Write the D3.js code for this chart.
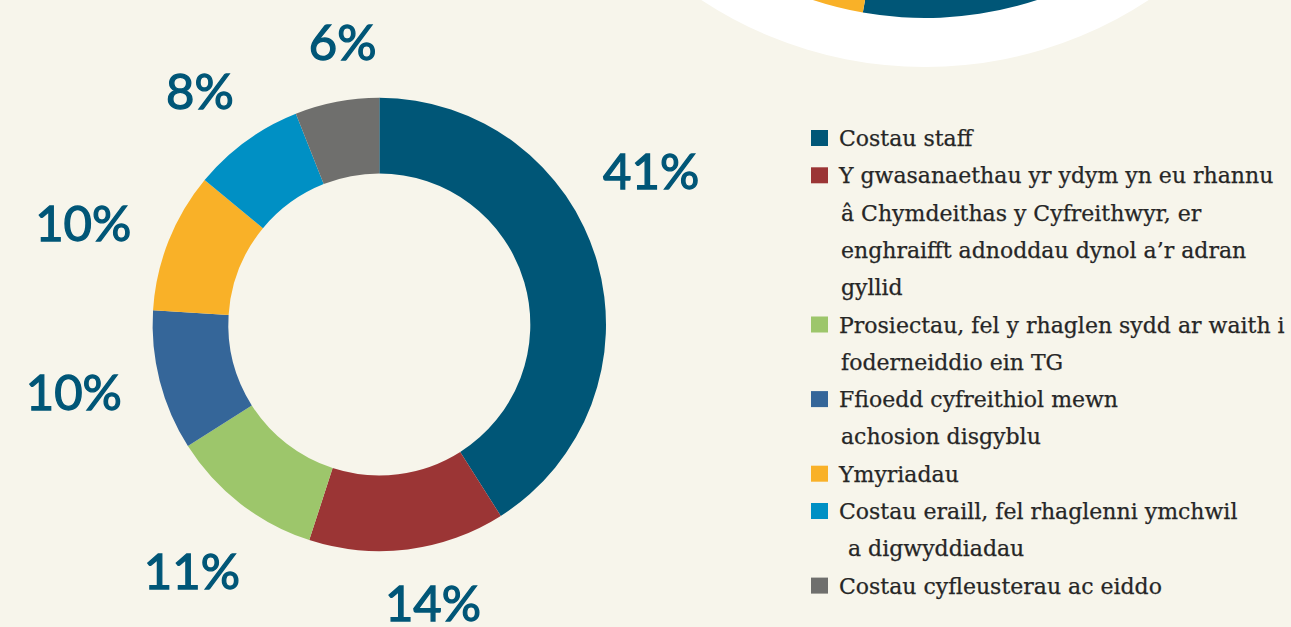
<!DOCTYPE html>
<html>
<head>
<meta charset="utf-8">
<script src="https://cdn.jsdelivr.net/npm/d3@7/dist/d3.min.js"></script>
<style>
  html, body { margin: 0; padding: 0; background: #f7f5eb; }
  svg { display: block; }
</style>
</head>
<body>
<svg id="chart" width="1291" height="627"></svg>
<script>
// ---- Data ----
const categories = [
  "Costau staff",
  "Y gwasanaethau yr ydym yn eu rhannu â Chymdeithas y Cyfreithwyr, er enghraifft adnoddau dynol a’r adran gyllid",
  "Prosiectau, fel y rhaglen sydd ar waith i foderneiddio ein TG",
  "Ffioedd cyfreithiol mewn achosion disgyblu",
  "Ymyriadau",
  "Costau eraill, fel rhaglenni ymchwil a digwyddiadau",
  "Costau cyfleusterau ac eiddo"
];
const legendLines = [
  ["Costau staff"],
  ["Y gwasanaethau yr ydym yn eu rhannu", "â Chymdeithas y Cyfreithwyr, er", "enghraifft adnoddau dynol a’r adran", "gyllid"],
  ["Prosiectau, fel y rhaglen sydd ar waith i", "foderneiddio ein TG"],
  ["Ffioedd cyfreithiol mewn", "achosion disgyblu"],
  ["Ymyriadau"],
  ["Costau eraill, fel rhaglenni ymchwil", " a digwyddiadau"],
  ["Costau cyfleusterau ac eiddo"]
];
const values = [41, 14, 11, 10, 10, 8, 6];
const colors = ["#005677", "#9b3535", "#9dc66b", "#356699", "#f9b128", "#0090c4", "#6f6f6d"];

// partial (cropped) donut from a neighbouring chart, top right
const insetValues = [100, 80];
const insetColors = ["#005677", "#f9b128"];

// ---- Layout ----
const W = 1291, H = 627;
const cx = 379.3, cy = 324.5, rOuter = 226.7, rInner = 151;
const labelNudgeDeg = [-13.2, -3.7, -0.6, 1.8, -2.7, -1.6, 3.4];
const labelRadius   = [312, 284, 310, 313, 313, 294, 285];
const labelColor = "#005677";

const svg = d3.select("#chart");
svg.append("rect").attr("width", W).attr("height", H).attr("fill", "#f7f5eb");

// inset
const inset = svg.append("g").attr("transform", "translate(925,-340)");
inset.append("circle").attr("r", 407).attr("fill", "#ffffff");
const insetPie = d3.pie().sort(null).startAngle(Math.PI / 2).endAngle(3 * Math.PI / 2)(insetValues);
inset.selectAll("path").data(insetPie).join("path")
  .attr("d", d3.arc().innerRadius(250).outerRadius(358))
  .attr("fill", (d, i) => insetColors[i]);

// main donut
const pie = d3.pie().sort(null).startAngle(0).endAngle(2 * Math.PI);
const arcs = pie(values);
const arc = d3.arc().innerRadius(rInner).outerRadius(rOuter);
const g = svg.append("g").attr("transform", `translate(${cx},${cy})`);
g.selectAll("path").data(arcs).join("path")
  .attr("d", arc)
  .attr("fill", (d, i) => colors[i]);

// labels
g.selectAll("text.lbl").data(arcs).join("text")
  .attr("class", "lbl")
  .attr("x", (d, i) => {
    const a = (d.startAngle + d.endAngle) / 2 + labelNudgeDeg[i] * Math.PI / 180;
    return Math.sin(a) * labelRadius[i];
  })
  .attr("y", (d, i) => {
    const a = (d.startAngle + d.endAngle) / 2 + labelNudgeDeg[i] * Math.PI / 180;
    return -Math.cos(a) * labelRadius[i];
  })
  .attr("dy", "0.36em")
  .attr("text-anchor", "middle")
  .attr("font-family", "Lato, 'Open Sans', sans-serif")
  .attr("font-weight", 400)
  .attr("font-size", 49)
  .attr("fill", labelColor)
  .attr("stroke", labelColor)
  .attr("stroke-width", 1.3)
  .text(d => d.data + "%");

// legend
const legX = 811, legTextX = 839, firstBaseline = 146, lineH = 37.3, sq = 16;
const leg = svg.append("g");
let lineIdx = 0;
legendLines.forEach((lines, i) => {
  const baseY = firstBaseline + lineIdx * lineH;
  leg.append("rect")
    .attr("x", legX).attr("y", baseY - sq)
    .attr("width", sq + 1).attr("height", sq)
    .attr("fill", colors[i]);
  const t = leg.append("text")
    .attr("font-family", "'DejaVu Serif', serif")
    .attr("font-size", 22)
    .attr("fill", "#262626")
    .attr("stroke", "#262626")
    .attr("stroke-width", 0.25)
    .attr("xml:space", "preserve")
    .style("white-space", "pre");
  lines.forEach((ln, j) => {
    t.append("tspan")
      .attr("x", j === 0 ? legTextX : legTextX + 2)
      .attr("y", baseY + j * lineH)
      .text(ln);
  });
  lineIdx += lines.length;
});
</script>
</body>
</html>
